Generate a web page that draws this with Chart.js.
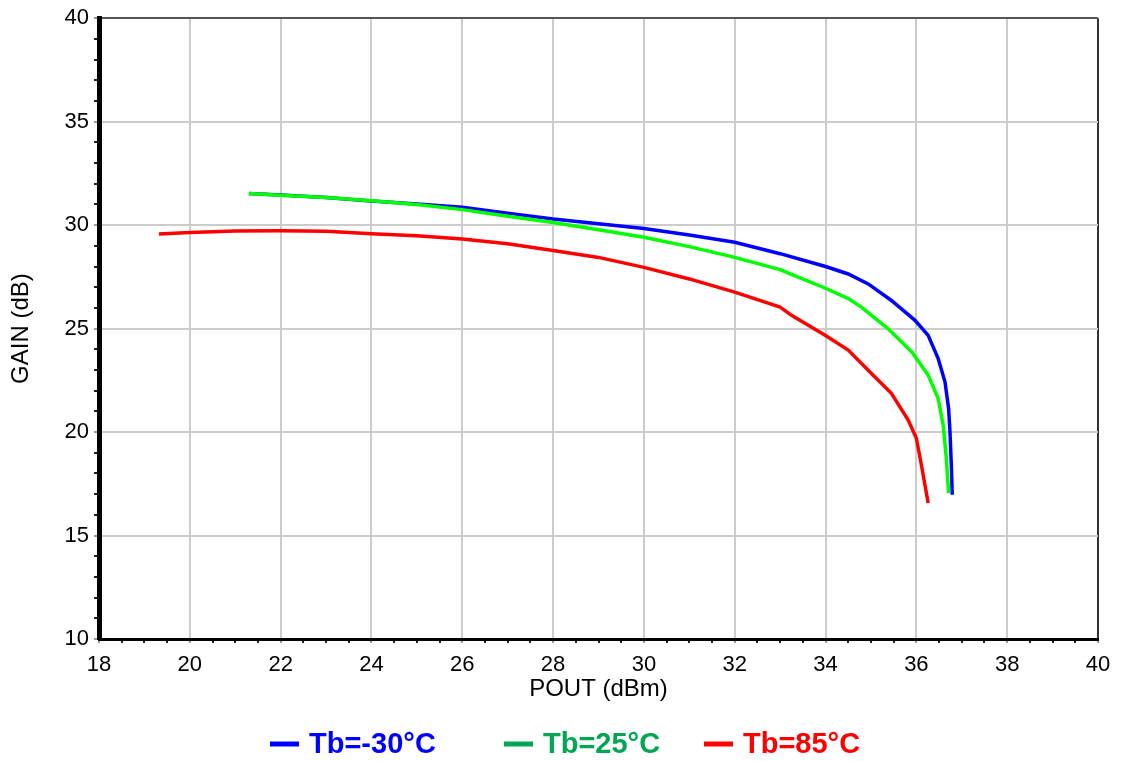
<!DOCTYPE html>
<html>
<head>
<meta charset="utf-8">
<script src="https://cdn.jsdelivr.net/npm/chart.js@4.4.0/dist/chart.umd.min.js"></script>
<style>
  body { margin: 0; background: #fff; }
  #wrap { width: 1121px; height: 761px; }
</style>
</head>
<body>
<div id="wrap"><canvas id="gainChart" width="1121" height="761"></canvas></div>
<script>
// Series labels
const seriesLabels = ['Tb=-30\u00b0C', 'Tb=25\u00b0C', 'Tb=85\u00b0C'];

// POUT (dBm) / GAIN (dB)
const poutCold = [21.3, 22, 23, 24, 25, 26, 27, 28, 29, 30, 31, 32, 33, 34, 34.5, 34.94, 35.45, 35.97, 36.26, 36.48, 36.63, 36.71, 36.74, 36.77, 36.79];
const gainCold = [31.53, 31.46, 31.33, 31.17, 31.02, 30.87, 30.58, 30.3, 30.07, 29.84, 29.52, 29.17, 28.62, 28.0, 27.64, 27.16, 26.36, 25.4, 24.67, 23.55, 22.43, 21.14, 20.02, 18.42, 16.97];

const poutRoom = [21.3, 22, 23, 24, 25, 26, 27, 28, 29, 30, 31, 32, 33, 33.25, 34, 34.5, 34.79, 35.38, 35.9, 36.26, 36.48, 36.59, 36.66, 36.71];
const gainRoom = [31.53, 31.45, 31.33, 31.18, 31.0, 30.75, 30.43, 30.13, 29.78, 29.41, 28.96, 28.44, 27.85, 27.62, 26.95, 26.45, 26.04, 24.99, 23.87, 22.75, 21.62, 20.34, 18.73, 17.05];

const poutHot = [19.32, 20, 21, 22, 23, 24, 25, 26, 27, 28, 29, 30, 31, 32, 33, 33.25, 34, 34.5, 35.01, 35.45, 35.82, 36.0, 36.11, 36.26];
const gainHot = [29.57, 29.64, 29.72, 29.73, 29.7, 29.58, 29.49, 29.33, 29.1, 28.77, 28.44, 27.96, 27.4, 26.76, 26.04, 25.64, 24.67, 23.96, 22.83, 21.87, 20.58, 19.7, 18.42, 16.57];

const lineColors = ['#0000ff', '#00ff00', '#ff0000'];
const legendColors = ['#0000ff', '#00a651', '#ff0000'];

const toPoints = (xs, ys) => xs.map((x, i) => ({ x: x, y: ys[i] }));

const FONT = '"Liberation Sans", Arial, sans-serif';

// legend drawn under the axis, like the original
const bottomLegend = {
  id: 'bottomLegend',
  afterDraw(chart) {
    const ctx = chart.ctx;
    const starts = [270, 504, 704];
    const y = 744;
    ctx.save();
    ctx.font = 'bold 29px ' + FONT;
    ctx.textBaseline = 'middle';
    chart.data.datasets.forEach((ds, i) => {
      ctx.fillStyle = legendColors[i];
      ctx.fillRect(starts[i], y - 2.5, 29, 5);
      ctx.fillText(ds.label, starts[i] + 39, y + 1);
    });
    ctx.restore();
  }
};

const isMajorX = v => Math.abs(v % 2) < 1e-6;
const isMajorY = v => Math.abs(v % 5) < 1e-6;

new Chart(document.getElementById('gainChart'), {
  type: 'scatter',
  data: {
    datasets: [
      { label: seriesLabels[0], data: toPoints(poutCold, gainCold), borderColor: lineColors[0], order: 3 },
      { label: seriesLabels[1], data: toPoints(poutRoom, gainRoom), borderColor: lineColors[1], order: 2 },
      { label: seriesLabels[2], data: toPoints(poutHot, gainHot), borderColor: lineColors[2], order: 1 }
    ]
  },
  options: {
    responsive: false,
    animation: false,
    showLine: true,
    elements: {
      point: { radius: 0 },
      line: { borderWidth: 3.5, tension: 0 }
    },
    layout: { padding: { left: 0, right: 23, top: 15, bottom: 42 } },
    plugins: {
      legend: { display: false },
      tooltip: { enabled: false }
    },
    scales: {
      x: {
        type: 'linear',
        min: 18, max: 40,
        afterFit: s => { s.height = 80; },
        ticks: {
          stepSize: 0.5,
          autoSkip: false,
          maxRotation: 0,
          padding: 9,
          color: '#000',
          font: { family: FONT, size: 22 },
          callback: v => isMajorX(v) ? String(v) : ''
        },
        grid: {
          tickLength: 4,
          lineWidth: 2,
          color: c => !isMajorX(c.tick.value) ? 'rgba(0,0,0,0)' : (c.tick.value === 40 ? '#333' : '#cccccc'),
          tickColor: c => isMajorX(c.tick.value) ? '#999' : '#222'
        },
        border: { color: '#000', width: 3 },
        title: {
          display: true,
          text: 'POUT (dBm)',
          color: '#000',
          font: { family: FONT, size: 24 },
          padding: { top: 0, bottom: 15 }
        }
      },
      y: {
        type: 'linear',
        min: 10, max: 40,
        afterFit: s => { s.width = 99; },
        ticks: {
          stepSize: 1,
          autoSkip: false,
          padding: 5,
          color: '#000',
          font: { family: FONT, size: 22 },
          callback: v => isMajorY(v) ? String(v) : ''
        },
        grid: {
          tickLength: 5,
          lineWidth: 2,
          color: c => !isMajorY(c.tick.value) ? 'rgba(0,0,0,0)' : (c.tick.value === 40 ? '#555' : '#cccccc'),
          tickColor: c => isMajorY(c.tick.value) ? '#999' : '#222'
        },
        border: { color: '#000', width: 5 },
        title: {
          display: true,
          text: 'GAIN (dB)',
          color: '#000',
          font: { family: FONT, size: 24 },
          padding: { top: 7, bottom: 0 }
        }
      }
    }
  },
  plugins: [bottomLegend]
});
</script>
</body>
</html>
